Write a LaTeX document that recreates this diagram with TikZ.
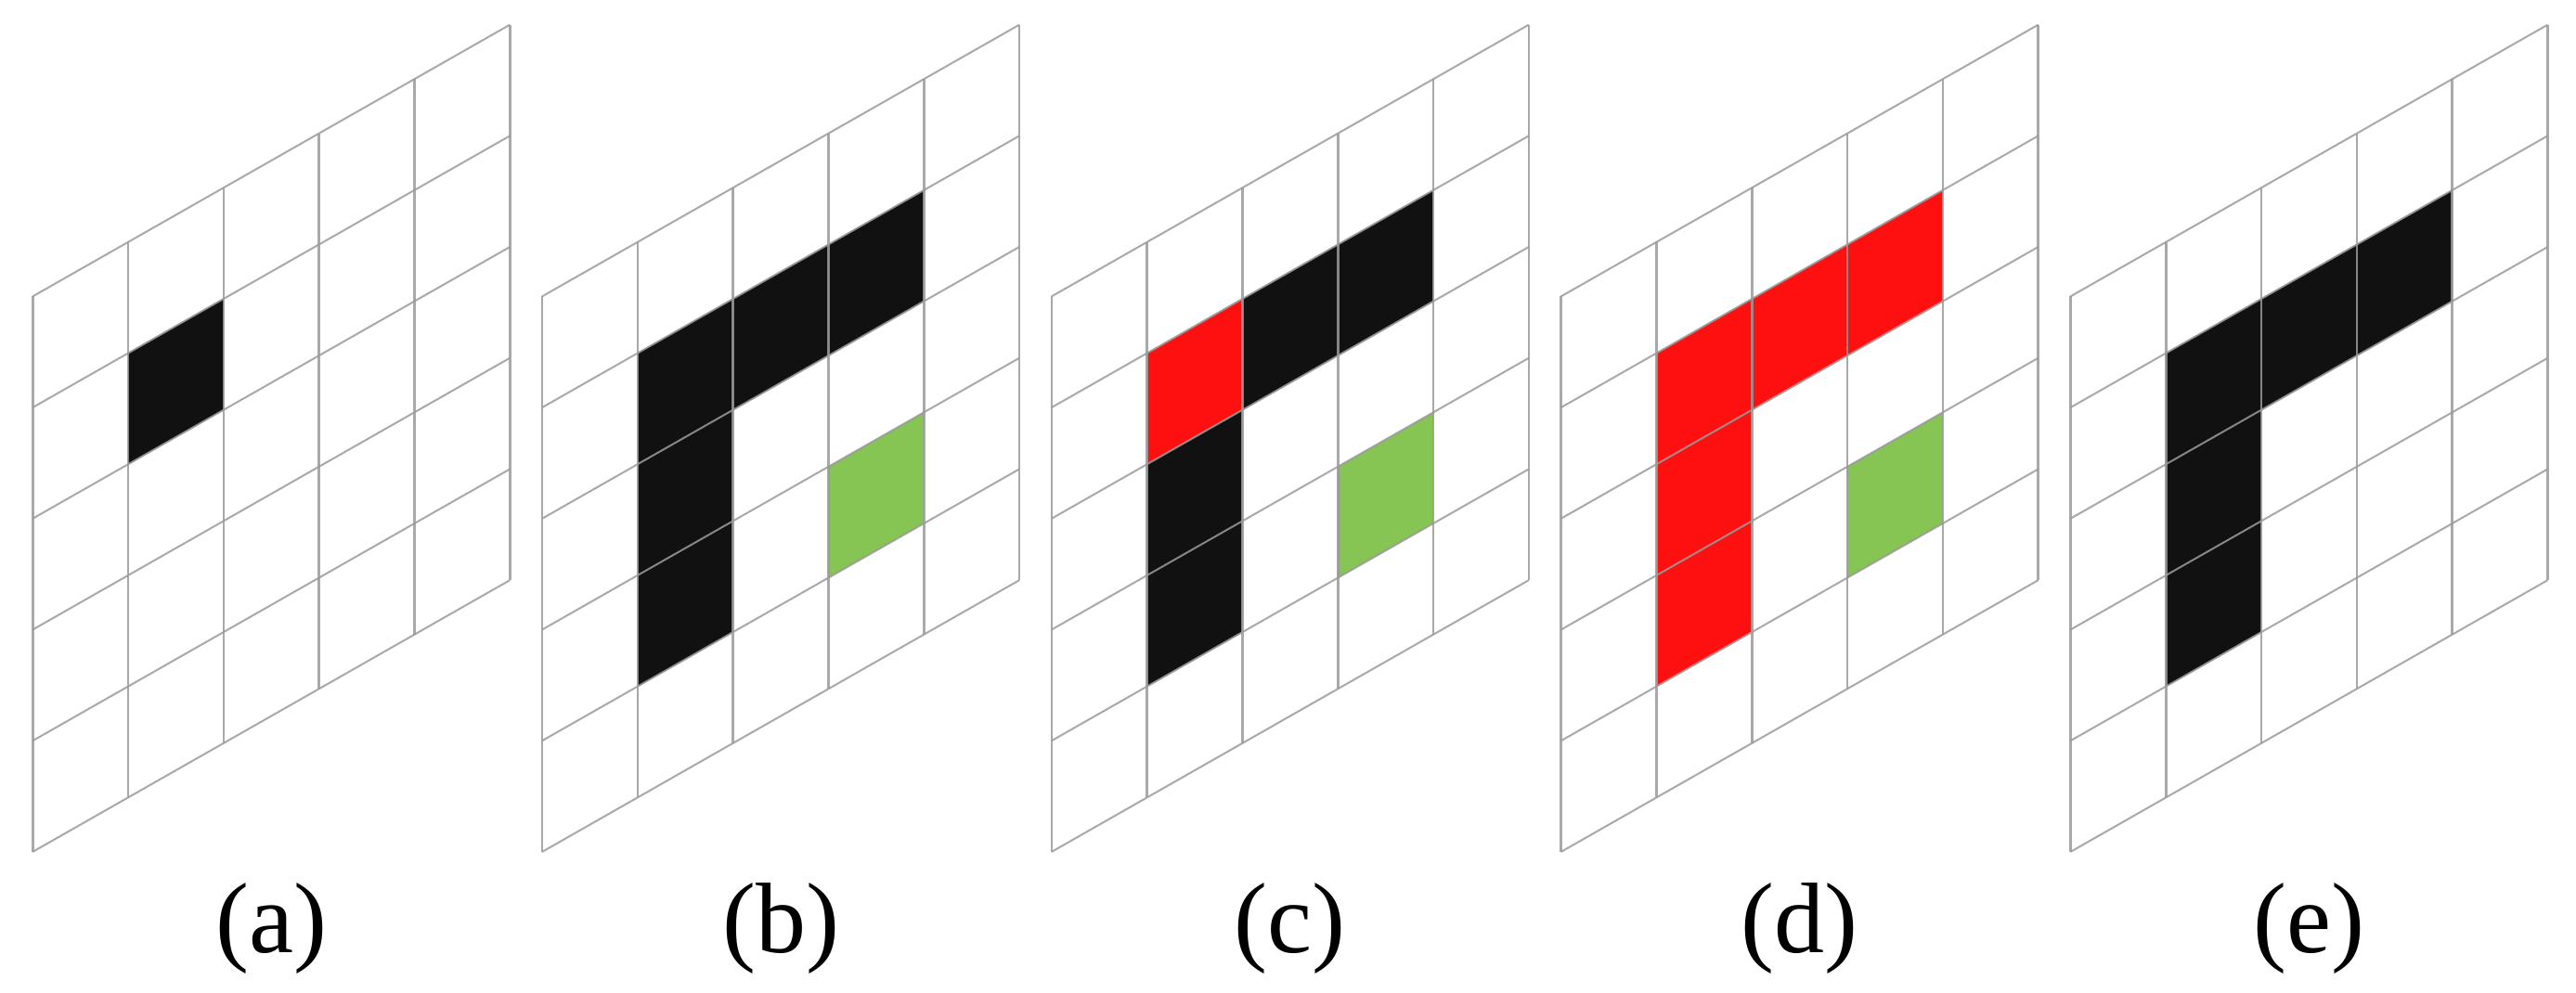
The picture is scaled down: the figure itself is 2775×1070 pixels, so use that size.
\documentclass[tikz,border=0pt]{standalone}
\usepackage{fontspec}
\setmainfont{Liberation Serif}
\definecolor{cellblack}{HTML}{111111}
\definecolor{cellred}{HTML}{FF1010}
\definecolor{cellgreen}{HTML}{86C453}
\definecolor{gridgray}{HTML}{9A9A9A}
\newcommand\CW{102.8}
\newcommand\RI{58.54}
\newcommand\RH{119.7}
\newcommand\TP{319.4}
\newcommand\gridcell[4]{%
  \fill[#4] ({#1+#2*\CW},{\TP-#2*\RI+#3*\RH}) -- ++(\CW,-\RI) -- ++(0,\RH) -- ++(-\CW,\RI) -- cycle;}
\newcommand\gridlines[1]{%
  \foreach \i in {0,...,5}{%
    \draw[vline] ({#1+\i*\CW},{\TP-\i*\RI}) -- ++(0,{5*\RH});
    \draw[sline] (#1,{\TP+\i*\RH}) -- ++({5*\CW},{-5*\RI});
  }}
\begin{document}
\begin{tikzpicture}[x=1pt,y=-1pt,
  vline/.style={draw=gridgray,line width=2.6pt,opacity=0.85},
  sline/.style={draw=gridgray,line width=2pt,opacity=0.85},
  caption/.style={inner sep=0pt,font=\fontsize{108}{120}\selectfont}]
\useasboundingbox[fill=white] (0,0) rectangle (2775,1070);
% (a)
\def\L{35.2}
\gridcell{\L}{1}{1}{cellblack}
\gridlines{\L}
\node[caption] (la) at ({\L+2.5*\CW},1001) {(a)};
% (b)
\def\L{584.0}
\gridcell{\L}{1}{1}{cellblack}
\gridcell{\L}{1}{2}{cellblack}
\gridcell{\L}{1}{3}{cellblack}
\gridcell{\L}{2}{1}{cellblack}
\gridcell{\L}{3}{1}{cellblack}
\gridcell{\L}{3}{3}{cellgreen}
\gridlines{\L}
\node[caption] (lb) at ({\L+2.5*\CW},1001) {(b)};
% (c)
\def\L{1132.8}
\gridcell{\L}{1}{1}{cellred}
\gridcell{\L}{1}{2}{cellblack}
\gridcell{\L}{1}{3}{cellblack}
\gridcell{\L}{2}{1}{cellblack}
\gridcell{\L}{3}{1}{cellblack}
\gridcell{\L}{3}{3}{cellgreen}
\gridlines{\L}
\node[caption] (lc) at ({\L+2.5*\CW},1001) {(c)};
% (d)
\def\L{1681.6}
\gridcell{\L}{1}{1}{cellred}
\gridcell{\L}{1}{2}{cellred}
\gridcell{\L}{1}{3}{cellred}
\gridcell{\L}{2}{1}{cellred}
\gridcell{\L}{3}{1}{cellred}
\gridcell{\L}{3}{3}{cellgreen}
\gridlines{\L}
\node[caption] (ld) at ({\L+2.5*\CW},1001) {(d)};
% (e)
\def\L{2230.4}
\gridcell{\L}{1}{1}{cellblack}
\gridcell{\L}{1}{2}{cellblack}
\gridcell{\L}{1}{3}{cellblack}
\gridcell{\L}{2}{1}{cellblack}
\gridcell{\L}{3}{1}{cellblack}
\gridlines{\L}
\node[caption] (le) at ({\L+2.5*\CW},1001) {(e)};
\end{tikzpicture}
\end{document}
